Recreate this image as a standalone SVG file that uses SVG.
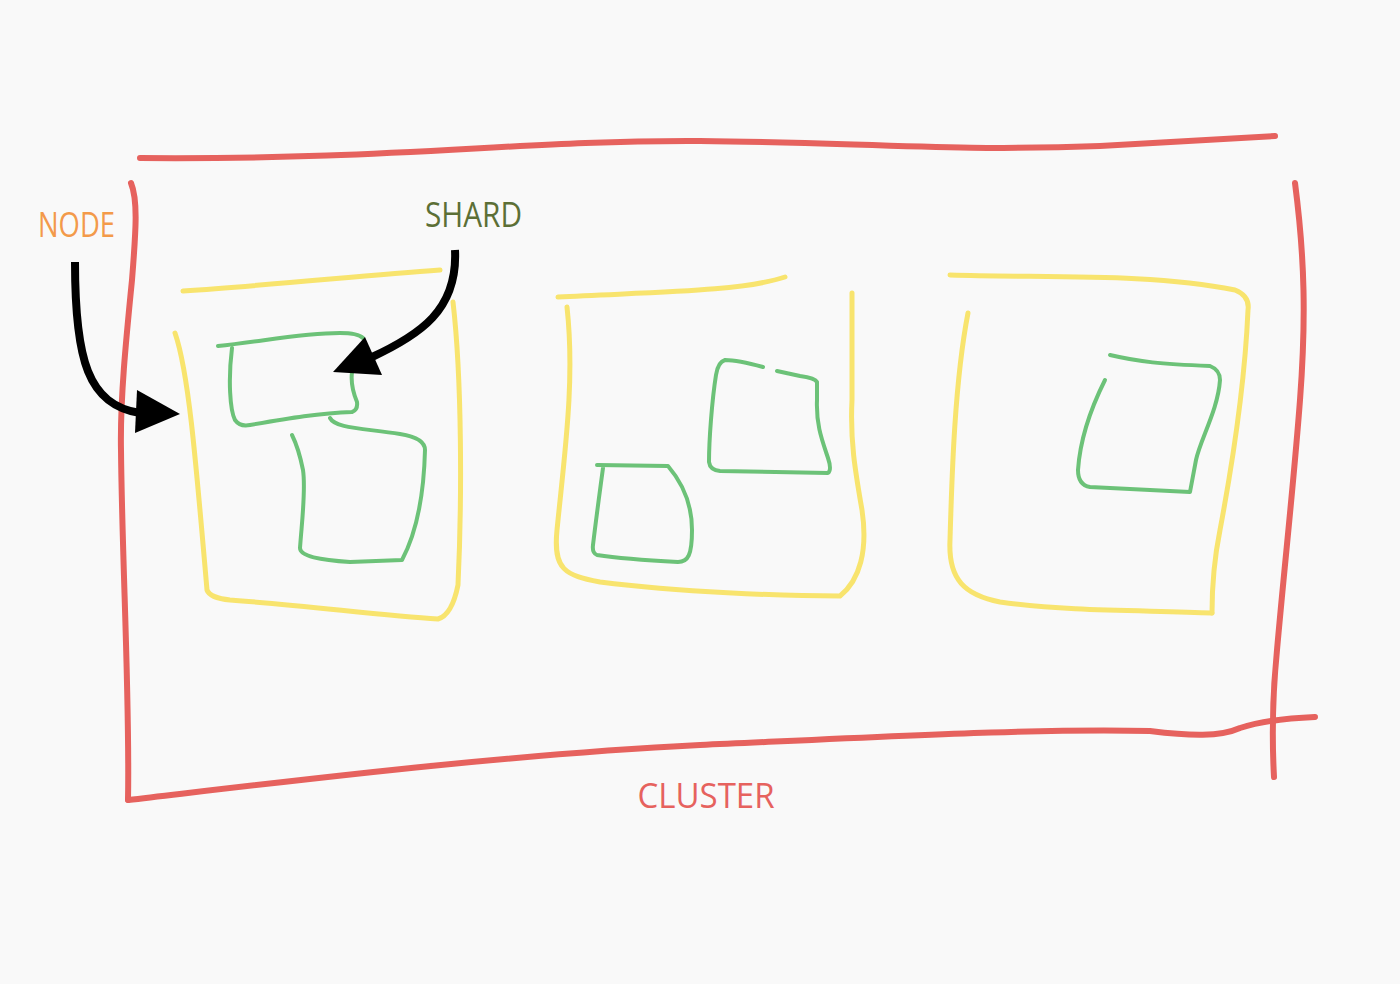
<svg xmlns="http://www.w3.org/2000/svg" width="1400" height="984" viewBox="0 0 1400 984">
<style>
.bg{fill:#f9f9f9}
.red{fill:none;stroke:#e6625e;stroke-width:6;stroke-linecap:round;stroke-linejoin:round}
.yel{fill:none;stroke:#f8e46e;stroke-width:5;stroke-linecap:round;stroke-linejoin:round}
.grn{fill:none;stroke:#6cc278;stroke-width:4;stroke-linecap:round;stroke-linejoin:round}
.arr{fill:none;stroke:#000;stroke-width:8;stroke-linecap:butt}
.head{fill:#000}
.lbl{font-family:"Open Sans","Noto Sans",sans-serif;font-size:34px}
</style>
<rect class="bg" x="0" y="0" width="1400" height="984"/>
<g id="cluster">
<path class="red" d="M140,158 C 400,160 520,140 700,141 C 850,142 950,152 1100,146 L 1275,136"/>
<path class="red" d="M131,183 C 138,200 136,230 132,280 C 126,340 120,400 121,450 C 122,560 130,700 128,800"/>
<path class="red" d="M128,800 C 300,780 500,755 700,745 C 900,736 1050,728 1150,731 C 1190,736 1220,737 1240,728 C 1265,720 1290,718 1315,717"/>
<path class="red" d="M1295,183 C 1305,260 1306,320 1300,400 C 1294,480 1285,560 1277,650 C 1272,700 1272,740 1274,777"/>
<text class="lbl" x="706" y="808" fill="#e6625e" text-anchor="middle" textLength="137" lengthAdjust="spacingAndGlyphs">CLUSTER</text>
</g>
<g id="node1">
<path class="yel" d="M183,291 C 270,285 360,276 440,270"/>
<path class="yel" d="M175,333 C 188,370 195,450 207,590 Q 210,598 230,600 C 300,605 380,615 438,619 Q 452,615 458,585 C 462,500 462,380 453,302"/>
</g>
<g id="node2">
<path class="yel" d="M558,297 C 650,292 740,292 785,277"/>
<path class="yel" d="M567,307 C 575,380 565,450 557,530 C 553,570 565,575 600,582 C 680,592 780,596 840,596 C 860,580 868,550 862,510 C 855,470 850,440 852,400 L 852,293"/>
</g>
<g id="node3">
<path class="yel" d="M950,275 C 1050,278 1150,273 1235,290 Q 1250,296 1248,310 C 1245,380 1235,450 1220,530 C 1212,570 1212,600 1212,613"/>
<path class="yel" d="M968,313 C 955,380 952,470 950,540 C 948,580 965,595 1000,602 C 1070,612 1150,610 1212,613"/>
</g>
<g id="shard1">
<path class="grn" d="M218,346 C 260,342 300,333 340,333 Q 358,333 363,338"/>
<path class="grn" d="M232,348 C 228,380 230,410 235,420 Q 240,427 250,425 C 290,418 320,413 352,412 Q 358,410 357,402 C 352,390 351,380 352,372"/>
</g>
<g id="shard2">
<path class="grn" d="M330,418 C 335,428 360,428 400,434 Q 425,438 425,450 C 424,490 418,530 402,560 L 350,562 C 320,560 300,556 300,548 C 302,520 306,490 303,470 C 300,455 297,445 292,435"/>
</g>
<g id="shard3">
<path class="grn" d="M597,465 L 668,466 C 680,480 692,500 692,530 C 692,555 688,562 678,562 C 640,560 610,557 597,555 Q 592,553 593,545 C 596,520 600,490 603,468"/>
</g>
<g id="shard4">
<path class="grn" d="M763,367 C 745,362 730,360 725,360 Q 718,362 716,375 C 712,400 709,440 709,462 Q 710,470 720,471 L 828,473 Q 832,470 828,458 C 822,440 816,425 817,400 L 817,382 Q 815,378 800,376 L 777,371"/>
</g>
<g id="shard5">
<path class="grn" d="M1110,355 C 1140,362 1160,364 1210,366 Q 1220,370 1220,380 C 1218,410 1200,440 1196,460 L 1190,492 L 1090,487 Q 1078,485 1078,470 C 1080,440 1090,410 1105,380"/>
</g>
<g id="label-node">
<text class="lbl" x="38" y="237" fill="#f39a4a" textLength="77" lengthAdjust="spacingAndGlyphs">NODE</text>
</g>
<g id="label-shard">
<text class="lbl" x="425" y="227" fill="#5c6f36" textLength="97" lengthAdjust="spacingAndGlyphs">SHARD</text>
</g>
<g id="connectors">
<path class="arr" d="M75,262 C 75,360 88,405 140,413"/>
<polygon class="head" points="137,390 180,414 135,433"/>
<path class="arr" d="M455,250 C 458,310 420,335 370,358"/>
<polygon class="head" points="365,337 333,372 382,375"/>
</g>
</svg>
